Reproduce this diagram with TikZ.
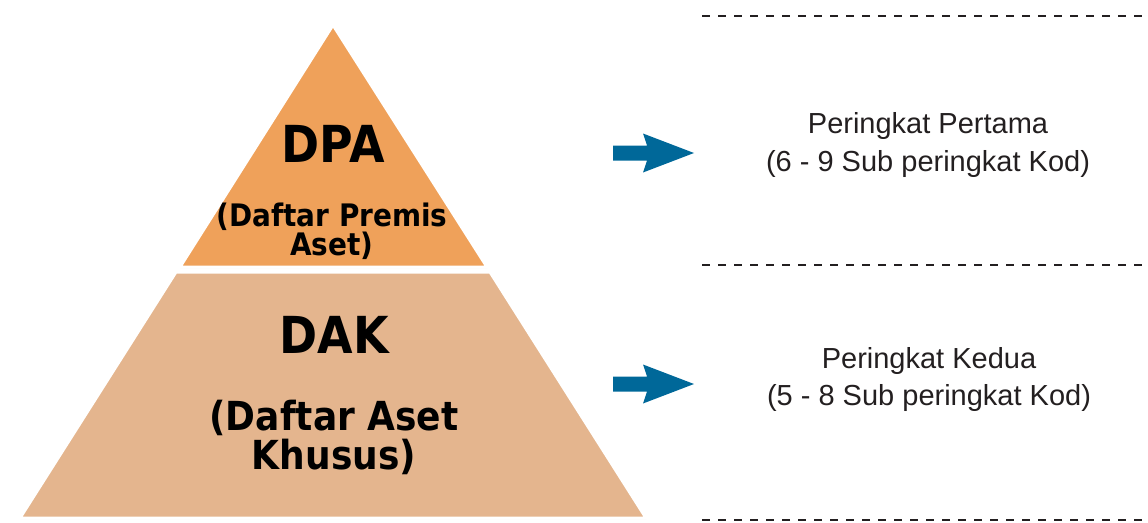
\documentclass[tikz,border=0pt]{standalone}
\usepackage{fontspec}
\setmainfont{Liberation Sans}
\newfontfamily\pyrfont[FakeStretch=0.9]{DejaVu Sans}
\usetikzlibrary{shadows}

\definecolor{dpaorange}{RGB}{239,161,90}
\definecolor{daktan}{RGB}{228,181,142}
\definecolor{arrowblue}{RGB}{0,104,153}
\definecolor{rankgray}{RGB}{35,31,32}

\begin{document}
\begin{tikzpicture}[x=1pt,y=-1pt,
    layer/.style={draw=white,line width=3pt,
        drop shadow={shadow xshift=0.6pt,shadow yshift=-1pt,opacity=0.3}},
    pyrtext/.style={font=\pyrfont\bfseries,align=center,text=black},
    ranktext/.style={font=\fontsize{29}{37}\selectfont,align=center,text=rankgray},
    divider/.style={draw=rankgray,line width=2.5pt,dash pattern=on 8pt off 8pt}]

    \useasboundingbox (0,0) rectangle (1148,522);

    \def\toplayer{(333,25) -- (487,267) -- (180,267) -- cycle}
    \def\bottomlayer{(176,272) -- (490,272) -- (646,518) -- (20,518) -- cycle}
    \def\rankarrow{++(0,-7.5) -- ++(34,0) -- ++(-4,-12) -- ++(51,19.5) -- ++(-51,19.5) -- ++(4,-12) -- ++(-34,0) -- cycle}

    %pyramid:
    \fill[daktan,layer] \bottomlayer;
    \fill[dpaorange,layer] \toplayer;

    \node[pyrtext,font=\pyrfont\bfseries\fontsize{51}{51}\selectfont] (dpa) at (333,144) {DPA};
    \node[pyrtext,font=\pyrfont\bfseries\fontsize{31}{27}\selectfont] (dpasub) at (332,231) {(Daftar Premis\\Aset)};
    \node[pyrtext,font=\pyrfont\bfseries\fontsize{51}{51}\selectfont] (dak) at (334,335) {DAK};
    \node[pyrtext,font=\pyrfont\bfseries\fontsize{40}{39}\selectfont] (daksub) at (334,437) {(Daftar Aset\\Khusus)};

    %arrows:
    \coordinate (arrowone) at (613,153);
    \coordinate (arrowtwo) at (613,384);
    \fill[arrowblue] (arrowone) \rankarrow;
    \fill[arrowblue] (arrowtwo) \rankarrow;

    %levels:
    \node[ranktext] (rankone) at (928,145) {Peringkat Pertama\\(6 - 9 Sub peringkat Kod)};
    \node[ranktext] (ranktwo) at (929,379) {Peringkat Kedua\\(5 - 8 Sub peringkat Kod)};

    %dividers:
    \foreach \y in {16,265,520}
        \draw[divider] (702,\y) -- (1148,\y);

\end{tikzpicture}
\end{document}
